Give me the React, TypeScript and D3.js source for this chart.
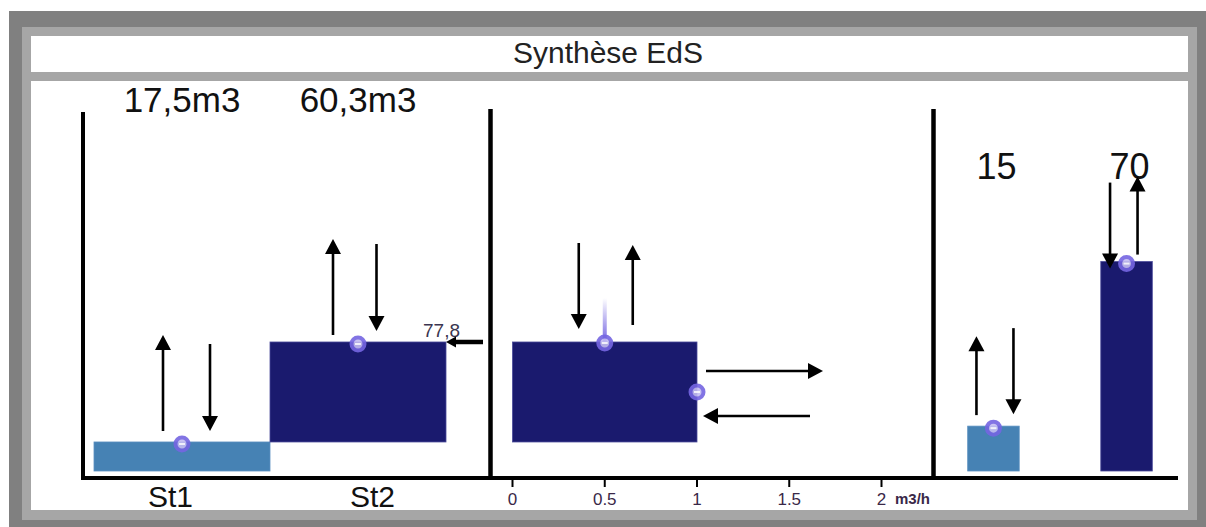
import React from "react";
import * as d3 from "d3";

// ---- data ----
const categories = ["St1", "St2"];
const volumes = [17.5, 60.3];
const volumeLabels = ["17,5m3", "60,3m3"];
const totalLabel = "77,8";
const flowTicks = [0, 0.5, 1, 1.5, 2];
const flowValue = 1;
const flowUnit = "m3/h";
const rightKeys = ["A", "B"];
const rightValues = [15, 70];
const title = "Synthèse EdS";

const W = 1206;
const H = 527;
const FONT = "'Liberation Sans', Arial, sans-serif";
const LIGHT = "#4682b4";
const NAVY = "#1a1a6e";
const RING = "#7566e2";

function Arrow({ x1, y1, x2, y2, sw = 2.6, hl = 15, hw = 8 }: any) {
  const dx = x2 - x1;
  const dy = y2 - y1;
  const len = Math.sqrt(dx * dx + dy * dy);
  const ux = dx / len;
  const uy = dy / len;
  const bx = x2 - ux * hl;
  const by = y2 - uy * hl;
  const px = -uy * hw;
  const py = ux * hw;
  return (
    <g>
      <line x1={x1} y1={y1} x2={bx + ux} y2={by + uy} stroke="#000" strokeWidth={sw} />
      <polygon points={`${x2},${y2} ${bx + px},${by + py} ${bx - px},${by - py}`} fill="#000" />
    </g>
  );
}

function Ring({ cx, cy }: any) {
  return (
    <g>
      <circle cx={cx} cy={cy} r={6.5} fill="#c4bdf2" stroke={RING} strokeWidth={4} opacity={0.9} />
      <rect x={cx - 3} y={cy - 1} width={6} height={2} fill="#ffffff" opacity={0.8} />
    </g>
  );
}

export default function App() {
  const base = 471;
  const axisY = 478;
  const yLeft = d3.scaleLinear().domain([0, 216.5]).range([base, 112]);
  const yRight = d3.scaleLinear().domain([0, 120]).range([base, 112]);
  const xLeft = d3.scaleBand<string>().domain(categories).range([94, 446]).paddingInner(0);
  const xLabel = d3.scalePoint<string>().domain(categories).range([170.5, 372.5]);
  const xFlow = d3.scaleLinear().domain([0, 2]).range([512.5, 881.5]);
  const xRight = d3.scaleBand<string>().domain(rightKeys).range([967.7, 1152.3]).paddingInner(0.613);

  const cum = d3.cumsum(volumes);
  const stacks = categories.map((c, i) => ({
    c,
    lo: i === 0 ? 0 : cum[i - 1],
    hi: cum[i],
    label: volumeLabels[i],
  }));
  const total = cum[cum.length - 1];
  const lo = stacks[1].lo;

  // arrow offsets relative to each bar (decoration)
  const leftArrows = [
    [
      { dx: -19, from: -11, to: -107 },
      { dx: 28, from: -98, to: -11 },
    ],
    [
      { dx: -25, from: -7, to: -103 },
      { dx: 18.5, from: -98, to: -11 },
    ],
  ];
  const rightArrows = [
    [
      { dx: -17, from: -11, to: -90 },
      { dx: 20, from: -98, to: -12 },
    ],
    [
      { dx: -16.5, from: -79, to: 7 },
      { dx: 11, from: -7, to: -85 },
    ],
  ];

  const midTop = yLeft(total);
  const midBot = yLeft(lo);
  const midX0 = xFlow(0);
  const midX1 = xFlow(flowValue);
  const midCx = xFlow(flowValue / 2);
  const midCy = yLeft((lo + total) / 2);

  return (
    <svg width={W} height={H} style={{ position: "absolute", left: 0, top: 0 }} fontFamily={FONT}>
      <defs>
        <linearGradient id="fade" x1="0" y1="0" x2="0" y2="1">
          <stop offset="0" stopColor={RING} stopOpacity={0} />
          <stop offset="1" stopColor={RING} stopOpacity={1} />
        </linearGradient>
      </defs>
      <rect x={0} y={0} width={W} height={H} fill="#fff" />
      {/* frame */}
      <rect x={9} y={11} width={W - 9} height={H - 11} fill="#808080" />
      <rect x={22} y={27} width={1175} height={493} fill="#a6a6a6" />
      <rect x={31} y={36} width={1157} height={36} fill="#fff" />
      <rect x={31} y={81} width={1157} height={429} fill="#fff" />
      <text x={608} y={63} textAnchor="middle" fontSize={30} fill="#222" textLength={190} lengthAdjust="spacingAndGlyphs">
        {title}
      </text>

      {/* axes */}
      <line x1={81} y1={axisY} x2={1178} y2={axisY} stroke="#000" strokeWidth={4} />
      <line x1={83} y1={112} x2={83} y2={axisY + 2} stroke="#000" strokeWidth={4} />
      <line x1={490.5} y1={109} x2={490.5} y2={axisY} stroke="#000" strokeWidth={4.5} />
      <line x1={933.5} y1={109} x2={933.5} y2={axisY} stroke="#000" strokeWidth={4.5} />

      {/* left panel stacked bars */}
      {stacks.map((s, i) => (
        <g key={s.c}>
          <rect
            x={xLeft(s.c)}
            y={yLeft(s.hi)}
            width={xLeft.bandwidth()}
            height={yLeft(s.lo) - yLeft(s.hi)}
            fill={i === 0 ? LIGHT : NAVY}
            stroke={i === 0 ? "#5a8fc0" : "#4a4a9a"}
            strokeWidth={0.8}
          />
          <text
            x={xLeft(s.c)! + xLeft.bandwidth() / 2}
            y={112}
            textAnchor="middle"
            fontSize={35}
            fill="#111"
          >
            {s.label}
          </text>
          <text x={xLabel(s.c)} y={507} textAnchor="middle" fontSize={30} fill="#111">
            {s.c}
          </text>
          {leftArrows[i].map((a, j) => {
            const cx = xLeft(s.c)! + xLeft.bandwidth() / 2 + a.dx;
            const ty = yLeft(s.hi);
            return <Arrow key={j} x1={cx} y1={ty + a.from} x2={cx} y2={ty + a.to} />;
          })}
        </g>
      ))}
      {stacks.map((s) => (
        <Ring key={s.c} cx={xLeft(s.c)! + xLeft.bandwidth() / 2} cy={yLeft(s.hi) + 2} />
      ))}
      <text x={423} y={337} fontSize={19} fill="#3a3550">
        {totalLabel}
      </text>
      <Arrow x1={483} y1={yLeft(total)} x2={446} y2={yLeft(total)} sw={4.5} hl={10} hw={5.5} />

      {/* middle panel */}
      <rect
        x={midX0}
        y={midTop}
        width={midX1 - midX0}
        height={midBot - midTop}
        fill={NAVY}
        stroke="#4a4a9a"
        strokeWidth={0.8}
      />
      <rect x={midCx - 2} y={midTop - 44} width={4} height={44} fill="url(#fade)" />
      <Ring cx={midCx} cy={midTop + 1} />
      <Ring cx={midX1} cy={midCy} />
      <Arrow x1={midCx - 26} y1={midTop - 99} x2={midCx - 26} y2={midTop - 13} />
      <Arrow x1={midCx + 28} y1={midTop - 17} x2={midCx + 28} y2={midTop - 97} />
      <Arrow x1={midX1 + 9} y1={midTop + 29} x2={midX1 + 126} y2={midTop + 29} />
      <Arrow x1={midX1 + 113} y1={midTop + 74} x2={midX1 + 6} y2={midTop + 74} />
      {flowTicks.map((t) => (
        <g key={t}>
          <line x1={xFlow(t)} y1={axisY} x2={xFlow(t)} y2={axisY + 9} stroke="#000" strokeWidth={2} />
          <text x={xFlow(t)} y={505} textAnchor="middle" fontSize={17} fill="#3a2848">
            {String(t)}
          </text>
        </g>
      ))}
      <text x={895} y={504} fontSize={15} fontWeight="bold" fill="#3a2848">
        {flowUnit}
      </text>

      {/* right panel */}
      {rightKeys.map((k, i) => {
        const x = xRight(k)!;
        const cx = x + xRight.bandwidth() / 2;
        const ty = yRight(rightValues[i]);
        return (
          <g key={k}>
            <rect
              x={x}
              y={ty}
              width={xRight.bandwidth()}
              height={yRight(0) - ty}
              fill={i === 0 ? LIGHT : NAVY}
              stroke={i === 0 ? "#5a8fc0" : "#4a4a9a"}
              strokeWidth={0.8}
            />
            <text x={cx + 3} y={179} textAnchor="middle" fontSize={36} fill="#111">
              {String(rightValues[i])}
            </text>
            {rightArrows[i].map((a, j) => (
              <Arrow key={j} x1={cx + a.dx} y1={ty + a.from} x2={cx + a.dx} y2={ty + a.to} />
            ))}
            <Ring cx={cx} cy={ty + 2} />
          </g>
        );
      })}
    </svg>
  );
}
